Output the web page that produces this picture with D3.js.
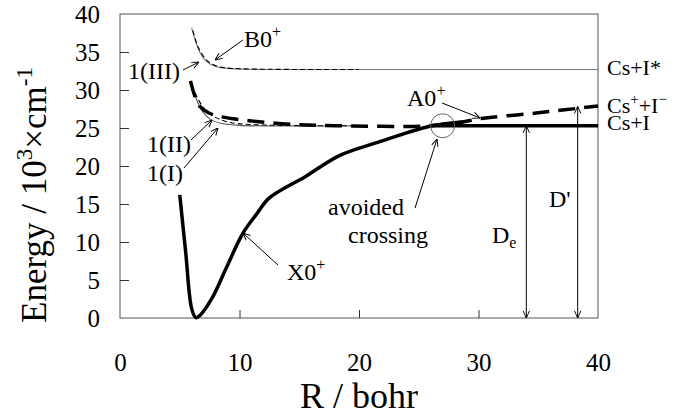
<html lang="en">
  <head>
    <title>CsI potential curves</title>
    <script src="https://d3js.org/d3.v7.min.js"></script>
    <style>
      body { margin: 0; background: white; }
      text { font-family: "Liberation Serif", serif; fill: black; }
    </style>
  </head>
  <body>
  <script>

  var w = 686;
  var h = 415;
  var margin = {top: 14, right: 88, bottom: 97, left: 120};

  // tick labels
  var xTicks = [0, 10, 20, 30, 40];
  var yTicks = [0, 5, 10, 15, 20, 25, 30, 35, 40];

  // curves: [R (bohr), E (10^3 cm^-1)]
  var x0Curve = [[5.0,16.2],[5.5,8.6],[6.0,1.2],[6.35,0.05],[6.7,0.35],[7.7,2.6],[8.9,6.6],[10.3,11.2],
                 [11.4,13.6],[12.5,15.8],[15.5,18.6],[18.4,21.4],[21.75,23.2],[26.1,25.3],[28.7,25.8]];
  var csILine = [[26.0,25.3],[40.0,25.3]];
  var a0Curve = [[5.9,31.2],[6.2,29.5],[6.7,27.8],[7.4,27.0],[8.4,26.5],[10.6,26.0],[14.2,25.5],
                 [18.0,25.3],[26.0,25.3],[28.7,25.8],[30.0,26.2],[35.0,27.0],[40.0,27.9]];
  var oneI   = [[5.9,31.0],[6.5,28.4],[7.0,27.0],[7.6,26.1],[8.5,25.6],[10.0,25.35],[20.0,25.3]];
  var oneII  = [[6.0,30.6],[6.6,28.6],[7.2,27.3],[8.0,26.4],[9.0,25.8],[11.0,25.45],[20.0,25.3]];
  var oneIII = [[6.0,38.2],[6.3,36.5],[6.7,34.9],[7.2,33.8],[8.0,33.1],[9.0,32.85],[11.0,32.72],[20.0,32.7],[40.0,32.7]];
  var b0Curve = [[6.1,37.8],[6.5,35.8],[7.0,34.4],[7.6,33.5],[8.5,33.0],[10.0,32.8],[20.0,32.7]];

  var innerWidth = w - margin.left - margin.right;
  var innerHeight = h - margin.top - margin.bottom;

  var xScale = d3.scaleLinear().domain([0, 40]).range([0, innerWidth]);
  var yScale = d3.scaleLinear().domain([0, 40]).range([innerHeight, 0]);

  var svg = d3.select("body")
    .append("svg")
      .attr("width", w)
      .attr("height", h);

  svg.append("rect")
    .attr("width", w)
    .attr("height", h)
    .attr("fill", "white");

  // open arrowhead
  var defs = svg.append("defs");
  defs.append("marker")
    .attr("id", "arr")
    .attr("viewBox", "0 0 10 10")
    .attr("refX", 10).attr("refY", 5)
    .attr("markerWidth", 8).attr("markerHeight", 8)
    .attr("markerUnits", "userSpaceOnUse")
    .attr("orient", "auto-start-reverse")
    .append("path")
      .attr("d", "M1,1 L10,5 L1,9")
      .attr("fill", "none")
      .attr("stroke", "black")
      .attr("stroke-width", 1.2);

  var g = svg.append("g")
    .attr("transform", `translate (${margin.left}, ${margin.top})`);

  // frame
  g.append("rect")
    .attr("width", innerWidth)
    .attr("height", innerHeight)
    .attr("fill", "none")
    .attr("stroke", "#555")
    .attr("stroke-width", 1);

  // axes with inward ticks
  var xAxis = d3.axisBottom(xScale).tickValues(xTicks).tickSize(-8).tickPadding(35);
  var yAxis = d3.axisLeft(yScale).tickValues(yTicks).tickSize(-9).tickPadding(20);

  var gx = g.append("g").attr("transform", `translate (0, ${innerHeight})`).call(xAxis);
  var gy = g.append("g").call(yAxis);
  [gx, gy].forEach(function(a) {
    a.select(".domain").remove();
    a.selectAll("line").attr("stroke", "#333");
    a.selectAll("text")
      .style("font-family", "Liberation Serif")
      .style("font-size", "25px")
      .attr("fill", "black");
  });
  gx.selectAll(".tick").filter(d => d == 0 || d == 40).select("line").remove();
  gy.selectAll(".tick").filter(d => d == 0 || d == 40).select("line").remove();

  var line = d3.line().x(d => xScale(d[0])).y(d => yScale(d[1])).curve(d3.curveCatmullRom.alpha(0.5));

  // thin curves
  g.append("path").datum(oneIII).attr("d", line)
    .attr("fill", "none").attr("stroke", "#777").attr("stroke-width", 1.1);
  g.append("path").datum(b0Curve).attr("d", line)
    .attr("fill", "none").attr("stroke", "black").attr("stroke-width", 1.1).attr("stroke-dasharray", "5,3");
  g.append("path").datum(oneI).attr("d", line)
    .attr("fill", "none").attr("stroke", "#555").attr("stroke-width", 1.1);
  g.append("path").datum(oneII).attr("d", line)
    .attr("fill", "none").attr("stroke", "black").attr("stroke-width", 1.1).attr("stroke-dasharray", "5,3");

  // thick curves
  g.append("path").datum(a0Curve).attr("d", line)
    .attr("fill", "none").attr("stroke", "black").attr("stroke-width", 3.5).attr("stroke-dasharray", "17,9");
  g.append("path").datum(csILine).attr("d", line)
    .attr("fill", "none").attr("stroke", "black").attr("stroke-width", 3.5);
  g.append("path").datum(x0Curve).attr("d", line)
    .attr("fill", "none").attr("stroke", "black").attr("stroke-width", 3.5).attr("stroke-linejoin", "round");

  // avoided crossing circle
  g.append("circle")
    .attr("cx", xScale(27)).attr("cy", yScale(25.3)).attr("r", 12)
    .attr("fill", "none").attr("stroke", "#666").attr("stroke-width", 1);

  // annotation arrows [R1, E1, R2, E2]
  var arrows = [
    [10.29,36.58, 7.95,33.95],
    [5.27,32.63, 6.61,33.68],
    [5.94,23.42, 7.70,26.05],
    [5.36,19.74, 8.20,25.0],
    [13.22,6.97, 10.29,11.18],
    [24.69,14.47, 26.53,23.55],
    [26.95,28.29, 30.13,26.32]
  ];
  g.selectAll("line.ann").data(arrows).enter().append("line")
    .attr("class", "ann")
    .attr("x1", d => xScale(d[0])).attr("y1", d => yScale(d[1]))
    .attr("x2", d => xScale(d[2])).attr("y2", d => yScale(d[3]))
    .attr("stroke", "black").attr("stroke-width", 1)
    .attr("marker-end", "url(#arr)");

  // dissociation energy arrows
  var dArrows = [[34.0, 25.3], [38.3, 27.85]];
  g.selectAll("line.dis").data(dArrows).enter().append("line")
    .attr("class", "dis")
    .attr("x1", d => xScale(d[0])).attr("y1", d => yScale(d[1]))
    .attr("x2", d => xScale(d[0])).attr("y2", yScale(0))
    .attr("stroke", "black").attr("stroke-width", 1)
    .attr("marker-start", "url(#arr)")
    .attr("marker-end", "url(#arr)");

  // labels [R, E, main, sup, sub, size]
  var labels = [
    [10.38, 35.66, "B0", "+", "", 24],
    [0.67, 31.45, "1(III)", "", "", 24],
    [2.26, 21.84, "1(II)", "", "", 24],
    [2.26, 18.03, "1(I)", "", "", 24],
    [13.97, 5.0, "X0", "+", "", 24],
    [17.41, 13.55, "avoided", "", "", 24],
    [19.08, 9.87, "crossing", "", "", 24],
    [24.02, 27.89, "A0", "+", "", 24],
    [31.13, 9.87, "D", "", "e", 24],
    [35.9, 14.6, "D'", "", "", 24]
  ];
  labels.forEach(function(l) {
    var t = g.append("text")
      .attr("x", xScale(l[0])).attr("y", yScale(l[1]))
      .style("font-size", l[5] + "px")
      .text(l[2]);
    if (l[3]) t.append("tspan").attr("dy", -10).style("font-size", "16px").text(l[3]);
    if (l[4]) t.append("tspan").attr("dy", 5).style("font-size", "16px").text(l[4]);
  });

  // asymptote labels
  var rx = xScale(40.75);
  g.append("text").attr("x", rx).attr("y", yScale(32.0)).style("font-size", "22px").text("Cs+I*");
  var t2 = g.append("text").attr("x", rx).attr("y", yScale(27.0)).style("font-size", "22px").text("Cs");
  t2.append("tspan").attr("dy", -9).style("font-size", "15px").text("+");
  t2.append("tspan").attr("dy", 9).text("+I");
  t2.append("tspan").attr("dy", -9).style("font-size", "15px").text("\u2212");
  g.append("text").attr("x", rx).attr("y", yScale(24.7)).style("font-size", "22px").text("Cs+I");

  // axis titles
  svg.append("text")
    .attr("x", margin.left + innerWidth / 2)
    .attr("y", 408)
    .attr("text-anchor", "middle")
    .style("font-size", "36px")
    .text("R / bohr");

  var yt = svg.append("text")
    .attr("transform", "translate(46, 195) rotate(-90)")
    .attr("text-anchor", "middle")
    .style("font-size", "35px");
  yt.append("tspan").text("Energy / 10");
  yt.append("tspan").attr("dy", -14).style("font-size", "23px").text("3");
  yt.append("tspan").attr("dy", 14).text("\u00d7cm");
  yt.append("tspan").attr("dy", -14).style("font-size", "23px").text("-1");

  </script>
  </body>
</html>
